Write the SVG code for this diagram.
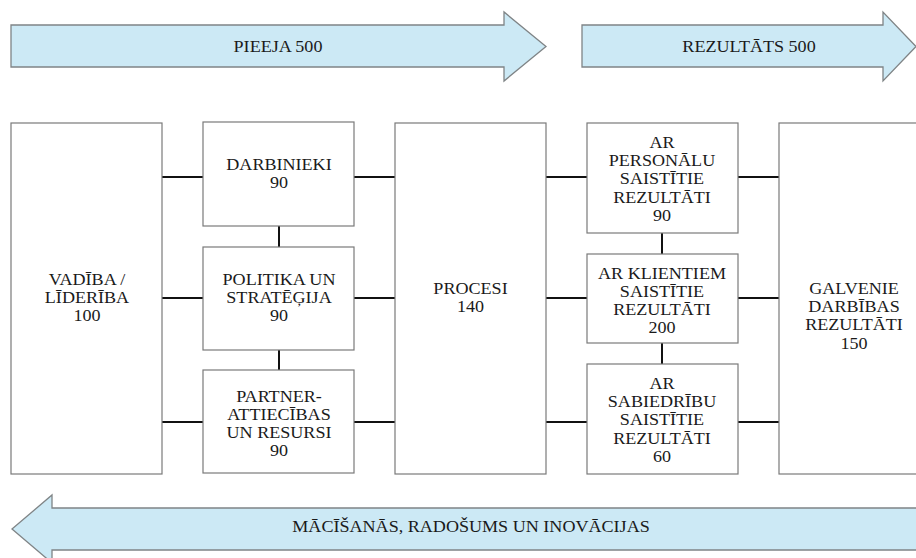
<svg xmlns="http://www.w3.org/2000/svg" width="916" height="558" viewBox="0 0 916 558">
  <style>
    .band { fill: #cce9f5; stroke: #7f8486; stroke-width: 1.3; }
    .box { fill: #ffffff; stroke: #7a7a7a; stroke-width: 1.2; }
    .link { stroke: #111111; stroke-width: 2; fill: none; }
    .lbl { font-size: 16px; fill: #1a1a1a; text-anchor: middle; }
  </style>
  <rect x="0" y="0" width="916" height="558" fill="#ffffff"/>

  <g font-family="Liberation Serif, Times New Roman, serif">
  <!-- flow bands -->
  <g id="band-input">
    <polygon class="band" points="11,25 504,25 504,12 546,46.5 504,81 504,67 11,67"/>
    <text class="lbl" transform="translate(278,52) scale(1.13,1)">PIEEJA 500</text>
  </g>
  <g id="band-results">
    <polygon class="band" points="582,25 883,25 883,12 916,46.5 883,81 883,67 582,67"/>
    <text class="lbl" transform="translate(749,52) scale(1.13,1)">REZULTĀTS 500</text>
  </g>
  <g id="band-learning">
    <polygon class="band" points="930,508 52,508 52,495 12,529 52,563 52,550 930,550"/>
    <text class="lbl" transform="translate(471,532) scale(1.13,1)">MĀCĪŠANĀS, RADOŠUMS UN INOVĀCIJAS</text>
  </g>

  <!-- connectors -->
  <g id="connectors">
    <path class="link" d="M162,177 H203 M162,298 H203 M162,422 H203"/>
    <path class="link" d="M354,177 H395 M354,298 H395 M354,422 H395"/>
    <path class="link" d="M279,226 V247 M279,350 V370"/>
    <path class="link" d="M546,177 H587 M546,298 H587 M546,422 H587"/>
    <path class="link" d="M738,177 H779 M738,298 H779 M738,422 H779"/>
    <path class="link" d="M662,233 V254 M662,343 V364"/>
  </g>

  <!-- enablers -->
  <g id="node-leadership">
    <rect class="box" x="11" y="123" width="151" height="351"/>
    <text class="lbl" transform="translate(87,285) scale(1.13,1)"><tspan x="0" y="0">VADĪBA /</tspan><tspan x="0" y="18.2">LĪDERĪBA</tspan><tspan x="0" y="36.4">100</tspan></text>
  </g>
  <g id="node-people">
    <rect class="box" x="203" y="122" width="151" height="104"/>
    <text class="lbl" transform="translate(279,169.5) scale(1.13,1)"><tspan x="0" y="0">DARBINIEKI</tspan><tspan x="0" y="18.2">90</tspan></text>
  </g>
  <g id="node-policy">
    <rect class="box" x="203" y="247" width="151" height="103"/>
    <text class="lbl" transform="translate(279,285) scale(1.13,1)"><tspan x="0" y="0">POLITIKA UN</tspan><tspan x="0" y="18.2">STRATĒĢIJA</tspan><tspan x="0" y="36.4">90</tspan></text>
  </g>
  <g id="node-partnerships">
    <rect class="box" x="203" y="370" width="151" height="103"/>
    <text class="lbl" transform="translate(279,401.5) scale(1.13,1)"><tspan x="0" y="0">PARTNER-</tspan><tspan x="0" y="18.2">ATTIECĪBAS</tspan><tspan x="0" y="36.4">UN RESURSI</tspan><tspan x="0" y="54.6">90</tspan></text>
  </g>
  <g id="node-processes">
    <rect class="box" x="395" y="123" width="151" height="351"/>
    <text class="lbl" transform="translate(470.5,294) scale(1.13,1)"><tspan x="0" y="0">PROCESI</tspan><tspan x="0" y="18">140</tspan></text>
  </g>

  <!-- results -->
  <g id="node-people-results">
    <rect class="box" x="587" y="123" width="151" height="110"/>
    <text class="lbl" transform="translate(662,148) scale(1.13,1)"><tspan x="0" y="0">AR</tspan><tspan x="0" y="18.2">PERSONĀLU</tspan><tspan x="0" y="36.4">SAISTĪTIE</tspan><tspan x="0" y="54.6">REZULTĀTI</tspan><tspan x="0" y="72.8">90</tspan></text>
  </g>
  <g id="node-customer-results">
    <rect class="box" x="587" y="254" width="151" height="89"/>
    <text class="lbl" transform="translate(662,278.5) scale(1.13,1)"><tspan x="0" y="0">AR KLIENTIEM</tspan><tspan x="0" y="18.2">SAISTĪTIE</tspan><tspan x="0" y="36.4">REZULTĀTI</tspan><tspan x="0" y="54.6">200</tspan></text>
  </g>
  <g id="node-society-results">
    <rect class="box" x="587" y="364" width="151" height="110"/>
    <text class="lbl" transform="translate(662,389) scale(1.13,1)"><tspan x="0" y="0">AR</tspan><tspan x="0" y="18.2">SABIEDRĪBU</tspan><tspan x="0" y="36.4">SAISTĪTIE</tspan><tspan x="0" y="54.6">REZULTĀTI</tspan><tspan x="0" y="72.8">60</tspan></text>
  </g>
  <g id="node-key-results">
    <rect class="box" x="779" y="123" width="160" height="351"/>
    <text class="lbl" transform="translate(854,294) scale(1.13,1)"><tspan x="0" y="0">GALVENIE</tspan><tspan x="0" y="18.2">DARBĪBAS</tspan><tspan x="0" y="36.4">REZULTĀTI</tspan><tspan x="0" y="54.6">150</tspan></text>
  </g>
  </g>
</svg>
